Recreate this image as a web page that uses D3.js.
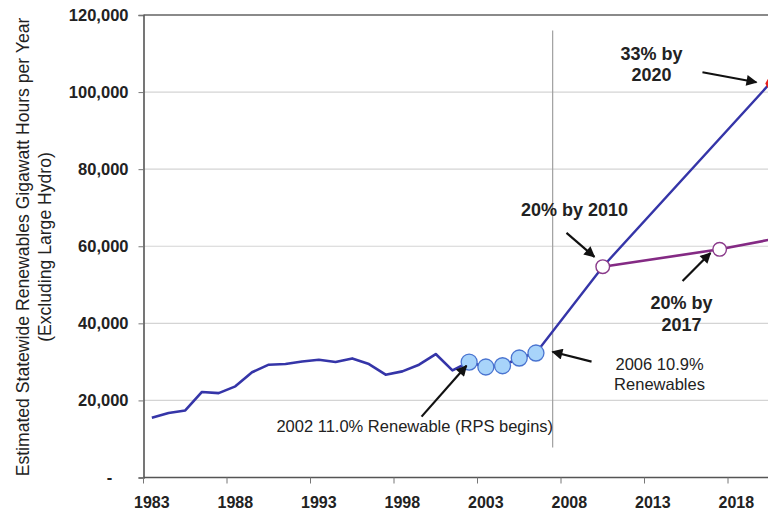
<!DOCTYPE html>
<html><head><meta charset="utf-8">
<script src="https://cdn.jsdelivr.net/npm/d3@7"></script>
<style>
html,body{margin:0;padding:0;background:#fff;}
svg{display:block;font-family:"Liberation Sans",Arial,sans-serif;}
</style></head>
<body>
<svg id="chart" width="768" height="512"></svg>
<script>
// ---- data ----
const histYears = d3.range(1983, 2007);
const histValues = [15500,16750,17400,22200,21900,23650,27300,29270,29440,30100,30560,29960,30900,29440,26680,27530,29270,32030,27800,29960,28670,29000,31000,32300];
const rpsYears = [2002, 2003, 2004, 2005, 2006];
const target33Years = [2006, 2010, 2020];
const target33Values = [32300, 54700, 102200];
const target20Years = [2010, 2017, 2020];
const target20Values = [54700, 59200, 61700];
const yTicks = [0, 20000, 40000, 60000, 80000, 100000, 120000];
const xLabelYears = [1983, 1988, 1993, 1998, 2003, 2008, 2013, 2018];
const allYears = d3.range(1983, 2021);
const divider = {year: 2007, from: 7800, to: 116000};
const annotations = [
  {lines: ["33% by", "2020"], x: 2012.92, y: 110000, bold: true, anchor: "middle",
   arrow: [[2015.97, 105150], [2019.2, 102560]]},
  {lines: ["20% by 2010"], x: 2008.31, y: 69400, bold: true, anchor: "middle",
   arrow: [[2007.83, 63450], [2009.5, 57240]]},
  {lines: ["20% by", "2017"], x: 2014.72, y: 45300, bold: true, anchor: "middle",
   arrow: [[2014.78, 51000], [2016.45, 58270]]},
  {lines: ["2006 10.9%", "Renewables"], x: 2013.4, y: 29270, bold: false, anchor: "middle",
   arrow: [[2009.33, 30050], [2006.99, 32630]]},
  {lines: ["2002 11.0% Renewable (RPS begins)"], x: 1990.46, y: 13200, bold: false, anchor: "start",
   arrow: [[1999.15, 15800], [2001.84, 29000]]}
];

// ---- layout ----
const svg = d3.select("#chart");
const plotLeft = 143.5, plotTop = 15, plotBottom = 477.5, step = 16.7;
const xBand = d3.scaleBand().domain(allYears).range([plotLeft, plotLeft + allYears.length * step]).padding(0);
const xc = d3.scaleLinear().domain([1983, 2020]).range([xBand(1983) + step / 2, xBand(2020) + step / 2]);
const y = d3.scaleLinear().domain([0, 120000]).range([plotBottom, plotTop]);

// grid
svg.append("g").selectAll("line").data(yTicks.filter(t => t > 0 && t < 120000)).join("line")
  .attr("x1", plotLeft).attr("x2", 768).attr("y1", d => y(d)).attr("y2", d => y(d))
  .attr("stroke", "#d4d4d4").attr("stroke-width", 1.2);
// top border
svg.append("line").attr("x1", plotLeft).attr("x2", 768).attr("y1", y(120000)).attr("y2", y(120000))
  .attr("stroke", "#8a8a8a").attr("stroke-width", 2);
// divider
svg.append("line").attr("x1", xc(divider.year)).attr("x2", xc(divider.year))
  .attr("y1", y(divider.to)).attr("y2", y(divider.from))
  .attr("stroke", "#a0a0a0").attr("stroke-width", 1.2);

// y axis
const yAxis = svg.append("g").attr("transform", `translate(${plotLeft},0)`)
  .call(d3.axisLeft(y).tickValues(yTicks).tickSize(5).tickPadding(10)
    .tickFormat(d => d === 0 ? "-" : d3.format(",")(d)));
yAxis.select(".domain").attr("stroke", "#555").attr("stroke-width", 1.6);
yAxis.selectAll(".tick line").attr("stroke", "#777");
yAxis.selectAll("text").attr("font-size", 16.5).attr("font-weight", "bold").attr("fill", "#222")
  .attr("font-family", "Liberation Sans, Arial, sans-serif");
yAxis.selectAll(".tick").filter(d => d === 0).select("text").attr("x", -34).attr("text-anchor", "middle");

// x axis
const xAxis = svg.append("g").attr("transform", `translate(0,${plotBottom})`)
  .call(d3.axisBottom(xBand).tickValues(xLabelYears).tickSize(0).tickPadding(19));
xAxis.select(".domain").remove();
xAxis.selectAll("text").attr("font-size", 16).attr("font-weight", "bold").attr("fill", "#222")
  .attr("font-family", "Liberation Sans, Arial, sans-serif");
svg.append("line").attr("x1", plotLeft).attr("x2", 768).attr("y1", plotBottom).attr("y2", plotBottom)
  .attr("stroke", "#555").attr("stroke-width", 1.6);
svg.append("g").selectAll("line").data(xLabelYears).join("line")
  .attr("x1", d => xBand(d)).attr("x2", d => xBand(d)).attr("y1", plotBottom).attr("y2", plotBottom + 6)
  .attr("stroke", "#777");

// y title
const titleLines = ["Estimated Statewide Renewables Gigawatt Hours per Year", "(Excluding Large Hydro)"];
svg.append("g").selectAll("text").data(titleLines).join("text")
  .attr("transform", (d, i) => `translate(${23 + i * 22},247) rotate(-90)`)
  .attr("text-anchor", "middle").attr("dy", "0.35em")
  .attr("font-size", 17.6).attr("fill", "#222").text(d => d);

// lines
const line = d3.line().x(d => xc(d[0])).y(d => y(d[1]));
svg.append("path").datum(target20Years.map((yr, i) => [yr, target20Values[i]]))
  .attr("d", line).attr("fill", "none").attr("stroke", "#842a84").attr("stroke-width", 2.6);
svg.append("path").datum(target33Years.map((yr, i) => [yr, target33Values[i]]))
  .attr("d", line).attr("fill", "none").attr("stroke", "#3535a8").attr("stroke-width", 2.4);
svg.append("path").datum(histYears.map((yr, i) => [yr, histValues[i]]))
  .attr("d", line).attr("fill", "none").attr("stroke", "#3535a8").attr("stroke-width", 2.6)
  .attr("stroke-linejoin", "round");

// markers
svg.append("g").selectAll("circle").data(rpsYears).join("circle")
  .attr("cx", d => xc(d)).attr("cy", d => y(histValues[histYears.indexOf(d)]))
  .attr("r", 8).attr("fill", "#a8d4fa").attr("stroke", "#4a74d0").attr("stroke-width", 1.3);
svg.append("g").selectAll("circle").data([2010, 2017]).join("circle")
  .attr("cx", d => xc(d)).attr("cy", d => y(target20Values[target20Years.indexOf(d)]))
  .attr("r", 6.8).attr("fill", "#fff").attr("stroke", "#8a3a8a").attr("stroke-width", 1.4);
svg.append("path").attr("d", d3.symbol(d3.symbolDiamond, 70)())
  .attr("transform", `translate(${xc(2020)},${y(target33Values[2])})`).attr("fill", "#e8201c");

// arrows
svg.append("defs").append("marker").attr("id", "ah").attr("markerUnits", "userSpaceOnUse")
  .attr("viewBox", "0 0 10 10").attr("refX", 9).attr("refY", 5)
  .attr("markerWidth", 13).attr("markerHeight", 11).attr("orient", "auto")
  .append("path").attr("d", "M0,0 L10,5 L0,10 Z").attr("fill", "#111");

const ann = svg.append("g");
annotations.forEach(a => {
  ann.append("line").attr("x1", xc(a.arrow[0][0])).attr("y1", y(a.arrow[0][1]))
    .attr("x2", xc(a.arrow[1][0])).attr("y2", y(a.arrow[1][1]))
    .attr("stroke", "#111").attr("stroke-width", 2.2).attr("marker-end", "url(#ah)");
  const t = ann.append("text").attr("text-anchor", a.anchor)
    .attr("font-size", a.bold ? 18 : 16.5).attr("font-weight", a.bold ? "bold" : "normal")
    .attr("fill", "#222");
  a.lines.forEach((l, i) => {
    t.append("tspan").attr("x", xc(a.x)).attr("y", y(a.y)).attr("dy", (0.35 + i * 1.2) + "em").text(l);
  });
});
</script>
</body></html>
